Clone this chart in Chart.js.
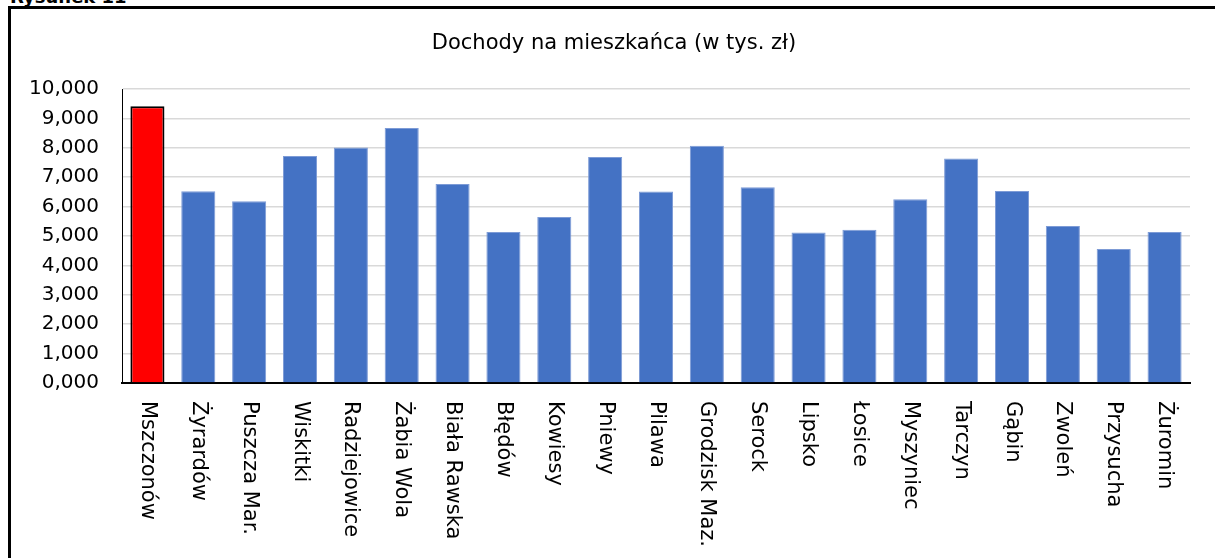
<!DOCTYPE html>
<html>
<head>
<meta charset="utf-8">
<script src="https://cdn.jsdelivr.net/npm/chart.js@4.4.1/dist/chart.umd.min.js"></script>
<style>
    body { margin: 0; background: #fff; overflow: hidden; }
    #caption { position: absolute; left: 10px; top: -12px; font: bold 18px "DejaVu Sans", sans-serif; line-height: 18px; color: #000; }
    #frame { position: absolute; left: 8px; top: 6px; width: 1300px; height: 700px; border: 3px solid #000; }
    #chartBox { position: absolute; left: 0; top: 0; width: 1215px; height: 558px; }
</style>
</head>
<body>
<div id="caption">Rysunek 11</div>
<div id="frame"></div>
<div id="chartBox"><canvas id="dochody"></canvas></div>
<script>
// Gminy i dochody na mieszkańca (tys. zł)
const gminy = ['Mszczonów', 'Żyrardów', 'Puszcza Mar.', 'Wiskitki', 'Radziejowice', 'Żabia Wola',
    'Biała Rawska', 'Błędów', 'Kowiesy', 'Pniewy', 'Pilawa', 'Grodzisk Maz.', 'Serock', 'Lipsko',
    'Łosice', 'Myszyniec', 'Tarczyn', 'Gąbin', 'Zwoleń', 'Przysucha', 'Żuromin'];
const dochody = [9.41, 6.52, 6.18, 7.72, 8.01, 8.67, 6.77, 5.14, 5.65, 7.69, 6.51, 8.07, 6.66, 5.12,
    5.21, 6.25, 7.64, 6.53, 5.34, 4.56, 5.14];
const wyroznione = ['Mszczonów'];
const yTicks = [0, 1, 2, 3, 4, 5, 6, 7, 8, 9, 10];
const tytul = 'Dochody na mieszkańca (w tys. zł)';

const FONT = '"DejaVu Sans", Verdana, sans-serif';

let fills = gminy.map(g => wyroznione.includes(g) ? '#ff0000' : '#4472c4');
let borders = gminy.map(g => wyroznione.includes(g) ? '#000000' : '#7d9bd6');
let borderWidths = gminy.map(g => wyroznione.includes(g) ? 2 : 1);

// title sits off-centre of the canvas and x labels read top to bottom,
// so both are drawn here
const extraText = {
    id: 'extraText',
    afterDraw: function(chart) {
        let ctx = chart.ctx;
        let xScale = chart.scales.x;
        ctx.save();
        ctx.fillStyle = '#000';
        ctx.font = '21px ' + FONT;
        ctx.textAlign = 'center';
        ctx.textBaseline = 'middle';
        ctx.fillText(tytul, 614, 44);

        ctx.textAlign = 'left';
        gminy.forEach((g, i) => {
            let x = xScale.getPixelForTick(i);
            ctx.save();
            ctx.translate(x, xScale.top + 18);
            ctx.rotate(Math.PI / 2);
            ctx.fillText(g, 0, 0);
            ctx.restore();
        });
        ctx.restore();
    }
};

new Chart(document.getElementById('dochody'), {
    type: 'bar',
    data: {
        labels: gminy,
        datasets: [{
            data: dochody,
            backgroundColor: fills,
            borderColor: borders,
            borderWidth: borderWidths,
            barPercentage: 0.67,
            categoryPercentage: 1.0
        }]
    },
    options: {
        responsive: true,
        maintainAspectRatio: false,
        animation: false,
        layout: { padding: { left: 0, right: 25, top: 89, bottom: 0 } },
        plugins: {
            legend: { display: false },
            tooltip: { enabled: false },
            title: { display: false }
        },
        scales: {
            x: {
                grid: { display: false },
                border: { color: '#000', width: 2 },
                ticks: { display: false },
                afterFit: function(scale) { scale.height = 175; }
            },
            y: {
                min: 0,
                max: 10,
                afterBuildTicks: function(scale) { scale.ticks = yTicks.map(v => ({ value: v })); },
                grid: { color: '#d9d9d9', lineWidth: 1.5, drawTicks: false },
                border: { color: '#000', width: 1 },
                ticks: {
                    padding: 23,
                    color: '#000',
                    font: { family: FONT, size: 20 },
                    callback: function(v) { return Number(v).toFixed(3).replace('.', ','); }
                },
                afterFit: function(scale) { scale.width = 122; }
            }
        }
    },
    plugins: [extraText]
});
</script>
</body>
</html>
